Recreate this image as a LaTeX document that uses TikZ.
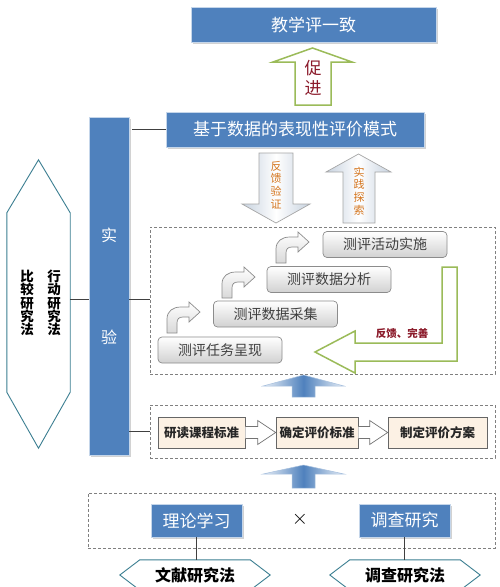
\documentclass[tikz,border=0pt]{standalone}
\usepackage{fontspec}
\setmainfont{Noto Sans CJK SC}
\usetikzlibrary{calc,shadows}
\definecolor{bblue}{HTML}{4F81BD}
\definecolor{bedge}{HTML}{C5D6EA}
\definecolor{olivec}{HTML}{9BBB59}
\definecolor{darkred}{HTML}{8B1A2A}
\definecolor{orangec}{HTML}{D4751E}
\definecolor{hexc}{HTML}{3B7E91}
\definecolor{stepedge}{HTML}{8C8C8C}
\definecolor{beige}{HTML}{FCF1E4}
\definecolor{arrowg}{HTML}{C7D2DF}
\newcommand\myfs[2]{\fontsize{#1}{#2}\selectfont}
\begin{document}
\begin{tikzpicture}[x=1pt,y=-1pt,
  bluebox/.style={draw=bedge, line width=0.8pt, fill=bblue, text=white, inner sep=0pt,
    drop shadow={shadow xshift=1.5pt, shadow yshift=-1.5pt, opacity=0.35}},
  stepbox/.style={draw=stepedge, line width=0.7pt, rounded corners=4pt, top color=white,
    bottom color=black!18, minimum width=124, minimum height=26, inner sep=0pt,
    text=black!75, font=\myfs{14}{16}},
  beigebox/.style={draw=black!60, line width=0.7pt, fill=beige, minimum height=31, inner sep=0pt,
    font=\bfseries\myfs{12.5}{14}, text=black!85},
  dashbox/.style={draw=black!50, dash pattern=on 3pt off 2pt, line width=0.8pt, inner sep=0pt},
  conn/.style={draw=black!75, line width=0.7pt},
  hexline/.style={draw=hexc, line width=0.9pt, fill=white},
  hollowarr/.style={draw=black!55, line width=0.7pt, fill=white},
  greyarr/.style={draw=black!35, line width=0.7pt, left color=arrowg, right color=arrowg, middle color=white},
  bluearr/.style={draw=bblue!50, line width=0.5pt, left color=bblue!12, right color=bblue!12, middle color=bblue},
  bentarr/.pic={\draw[stepedge, line width=0.7pt, top color=white, bottom color=black!15]
    (0,0) -- (0,-14) .. controls (0,-22) and (6,-26) .. (14,-26) -- (22,-26) -- (22,-31)
    -- (33,-21) -- (22,-11) -- (22,-16) -- (16,-16) .. controls (12,-16) and (10,-14) .. (10,-10)
    -- (10,0) -- cycle;}
]
\useasboundingbox (0,0) rectangle (500,587);
\fill[white] (0,0) rectangle (500,587);
\clip (0,0) rectangle (500,587);

% top boxes
\node[bluebox, minimum width=245, minimum height=35, font=\myfs{17}{20}] (top) at (313.5,24.5) {教学评一致};
\node[bluebox, minimum width=258, minimum height=35, font=\myfs{17}{20}] (model) at (295,129.5) {基于数据的表现性评价模式};

% promote arrow
\draw[olivec, line width=1.5pt, fill=white, line join=miter]
  (295,105) -- (295,62) -- (273,62) -- (312.5,48) -- (352,62) -- (331,62) -- (331,105) -- cycle;
\node[font=\myfs{17}{20}, text=darkred, align=center] (cj) at (313,78) {促\\进};

% feedback / practice arrows
\draw[greyarr] (259,153) -- (293,153) -- (293,204) -- (310,204) -- (276,223) -- (242,204) -- (259,204) -- cycle;
\node[font=\myfs{11}{12.7}, text=orangec, align=center] (fkyz) at (276,185) {反\\馈\\验\\证};
\draw[greyarr] (343,223) -- (343,172) -- (326,172) -- (358.5,154) -- (391,172) -- (375,172) -- (375,223) -- cycle;
\node[font=\myfs{11}{12.7}, text=orangec, align=center] (sjts) at (359,191) {实\\践\\探\\索};

% experiment bar
\node[bluebox, minimum width=40, minimum height=338] (bar) at (109,286) {};
\node[font=\myfs{16}{18}, text=white] (shi) at (109,235) {实};
\node[font=\myfs{16}{18}, text=white] (yan) at (109,337) {验};

% left hexagon
\node[minimum width=63, minimum height=288, inner sep=0pt] (lhex) at (38.5,304) {};
\draw[hexline] (lhex.north) -- ($(lhex.north east)+(0,53)$) -- ($(lhex.south east)+(0,-56)$)
  -- (lhex.south) -- ($(lhex.south west)+(0,-56)$) -- ($(lhex.north west)+(0,53)$) -- cycle;
\node[font=\bfseries\myfs{13.5}{13.4}, align=center] (bj) at (27,303) {比\\较\\研\\究\\法};
\node[font=\bfseries\myfs{13.5}{13.4}, align=center] (xd) at (54,303) {行\\动\\研\\究\\法};

% dashed containers
\node[dashbox, minimum width=345, minimum height=147] (mid) at (322.5,300.5) {};
\node[dashbox, minimum width=345, minimum height=53] (low) at (322.5,431.5) {};
\node[dashbox, minimum width=407, minimum height=55] (bot) at (291.5,520.5) {};

% connectors
\coordinate (hexR) at (lhex.east |- 0,299);
\draw[conn] (hexR) -- (bar.west |- hexR);
\draw[conn] (bar.east |- hexR) -- (mid.west |- hexR);
\draw[conn] (bar.east |- low.west) -- (low.west);
\draw[conn] ($(bar.east |- model.west)+(3,0)$) -- (model.west);

% steps
\node[stepbox] (s1) at (220,350) {测评任务呈现};
\node[stepbox] (s2) at (275.5,314) {测评数据采集};
\node[stepbox] (s3) at (329,279.5) {测评数据分析};
\node[stepbox] (s4) at (385,244.5) {测评活动实施};
\pic at (167,333) {bentarr};
\pic at (222,298) {bentarr};
\pic at (276,263) {bentarr};

% feedback L arrow
\draw[olivec, line width=1.5pt, fill=white, line join=miter]
  (442,267) -- (457,267) -- (457,361) -- (355,361) -- (355,373) -- (315,352)
  -- (355,331) -- (355,343) -- (442,343) -- cycle;
\node[font=\bfseries\myfs{10.5}{12}, text=darkred] (fkws) at (402,333) {反馈、完善};

% blue up arrows
\draw[bluearr] (292,397) -- (292,386) -- (263,386) -- (303.5,375) -- (344,386) -- (315,386) -- (315,397) -- cycle;
\draw[bluearr] (292,488) -- (292,474) -- (263,474) -- (303.5,465) -- (344,474) -- (315,474) -- (315,488) -- cycle;

% standards row
\node[beigebox, minimum width=87] (b1) at (201.5,432.5) {研读课程标准};
\node[beigebox, minimum width=82] (b2) at (317,432.5) {确定评价标准};
\node[beigebox, minimum width=99] (b3) at (437.5,432.5) {制定评价方案};
\foreach \a/\b in {b1/b2, b2/b3}
  \draw[hollowarr] ($(\a.east)+(0,-6)$) -- ($(\b.west)+(-18,-6)$) -- ($(\b.west)+(-18,-12)$)
    -- (\b.west) -- ($(\b.west)+(-18,12)$) -- ($(\b.west)+(-18,6)$) -- ($(\a.east)+(0,6)$);

% bottom row
\node[bluebox, minimum width=91, minimum height=33, font=\myfs{17}{20}] (ll) at (196.5,520.5) {理论学习};
\node[bluebox, minimum width=91, minimum height=33, font=\myfs{17}{20}] (dc) at (404.5,520.5) {调查研究};
\node[font=\myfs{20}{22}] (cross) at (300,519) {$\times$};

\node[minimum width=150, minimum height=30, inner sep=0pt, font=\bfseries\myfs{16}{18}] (h1) at (195,575) {文献研究法};
\node[minimum width=150, minimum height=30, inner sep=0pt, font=\bfseries\myfs{16}{18}] (h2) at (405,575) {调查研究法};
\foreach \h in {h1,h2}
  \draw[hexline, fill=none] (\h.west) -- ($(\h.north west)+(20,0)$) -- ($(\h.north east)+(-20,0)$)
    -- (\h.east) -- ($(\h.south east)+(-20,0)$) -- ($(\h.south west)+(20,0)$) -- cycle;
\draw[conn] (ll.south) -- (ll.south |- h1.north);
\draw[conn] (dc.south) -- (dc.south |- h2.north);
\end{tikzpicture}
\end{document}
